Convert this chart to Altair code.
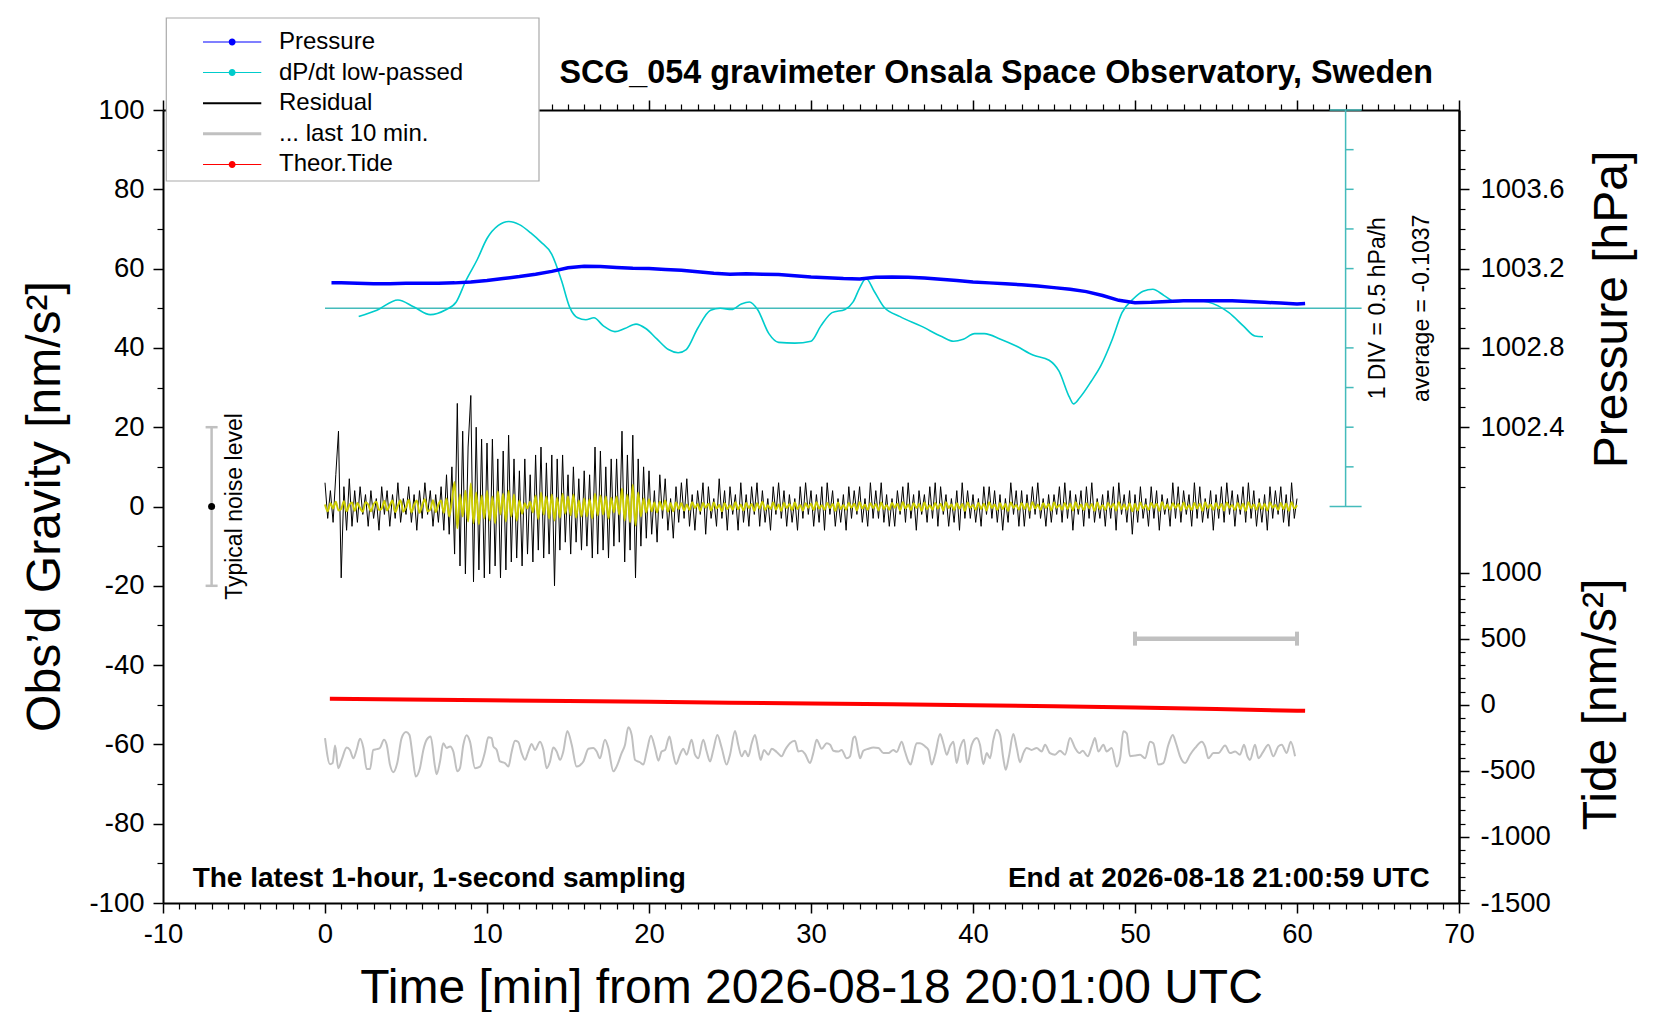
import altair as alt
import pandas as pd

FONT = "Liberation Sans"

# ---------------- data ----------------
# Residual gravity [nm/s^2], one value every 10 s from t = 0 min
residual = [
    6, -3, 4, -4, 8, 19,
    -18, 5, -6, 7, -5, 4,
    -4, 5, -2, 3, -5, 4,
    -3, 2, -6, 5, -2, 4,
    -5, 3, -3, 6, -4, 2,
    -2, 5, -4, 3, -6, 4,
    -3, 6, -2, 4, -5, 3,
    -4, 5, -6, 8, -7, 10,
    -12, 26, -15, 19, -17, 15,
    28, -19, 20, -16, 17, -18,
    16, -17, 17, -15, 12, -18,
    14, -16, 18, -14, 12, -13,
    9, -15, 12, -12, 8, -14,
    13, -11, 15, -13, 11, -12,
    13, -20, 12, -11, 13, -9,
    8, -12, 10, -9, 7, -11,
    9, -10, 8, -13, 15, -12,
    14, -11, 10, -13, 12, -10,
    12, -9, 19, -14, 13, -11,
    18, -18, 12, -10, 10, -8,
    9, -7, 4, -9, 8, -3,
    7, -6, 2, -8, 5, -4,
    6, -3, 7, -5, 3, -6,
    4, -2, 6, -7, 5, -3,
    2, -5, 7, -3, 4, -6,
    5, -2, 3, -6, 6, -4,
    3, -5, 5, -2, 6, -5,
    4, -4, 2, -6, 5, -2,
    6, -3, 4, -5, 3, -4,
    2, -6, 5, -3, 6, -2,
    4, -5, 3, -4, 5, -6,
    6, -2, 4, -5, 2, -4,
    3, -6, 5, -3, 4, -2,
    5, -4, 2, -5, 6, -3,
    4, -3, 6, -4, 3, -5,
    2, -5, 4, -2, 5, -4,
    6, -3, 3, -6, 4, -2,
    3, -4, 5, -3, 6, -5,
    5, -2, 3, -5, 2, -4,
    4, -6, 6, -3, 4, -3,
    3, -4, 2, -5, 5, -2,
    5, -3, 4, -4, 3, -6,
    2, -4, 6, -2, 4, -5,
    4, -5, 3, -3, 5, -2,
    6, -3, 2, -5, 3, -4,
    3, -2, 5, -4, 6, -3,
    4, -6, 3, -2, 4, -5,
    5, -3, 6, -4, 2, -3,
    3, -5, 4, -3, 5, -6,
    6, -2, 3, -4, 4, -7,
    3, -4, 5, -3, 2, -5,
    5, -3, 4, -6, 3, -2,
    2, -5, 6, -3, 5, -4,
    4, -2, 3, -5, 6, -3,
    5, -4, 2, -3, 4, -6,
    3, -3, 5, -4, 6, -2,
    4, -5, 3, -2, 5, -4,
    6, -3, 4, -5, 2, -4,
    3, -6, 5, -3, 4, -2,
    5, -4, 3, -5, 6, -3,
    2,
]

# Low-passed residual (yellow) [nm/s^2], same 10-s samples
filtered = [
    0.5, -1.2, 0.8, -0.5, 1.2, -1.0,
    -0.6, 1.3, -1.2, 0.4, 1.0, -1.1,
    0.9, -0.4, -1.3, 1.1, 0.5, -1.2,
    0.6, 1.2, -0.9, -0.5, 1.4, -1.0,
    0.3, 1.5, -1.4, 0.2, 1.6, -1.3,
    -0.2, 1.7, -1.5, 0.4, 1.5, -1.6,
    0.3, 1.8, -1.2, -0.8, 1.6, -1.4,
    0.5, 1.5, -1.6, 2.0, -2.5, 1.5,
    6.2, -5.5, 3.0, -2.5, 4.0, -3.8,
    5.8, -4.2, 3.5, -4.5, 2.8, -3.0,
    4.0, -3.5, 2.5, -4.2, 3.8, -2.0,
    3.2, -3.8, 4.0, -2.5, 3.0, -3.6,
    1.5, -1.8, 0.8, -0.5, 1.2, -1.5,
    2.8, -3.2, 3.5, -2.0, 2.5, -3.0,
    3.0, -3.5, 2.2, -2.8, 3.2, -1.8,
    2.5, -2.2, 3.0, -2.8, 1.5, -2.5,
    2.0, -2.5, 1.8, -3.0, 3.2, -2.2,
    2.8, -2.0, 2.5, -3.0, 2.2, -1.5,
    2.5, -2.0, 4.5, -3.5, 3.0, -4.0,
    5.5, -4.8, 3.5, -2.5, 2.0, -1.5,
    1.8, -1.2, 1.0, -1.5, 1.2, -0.8,
    1.5, -1.3, 0.8, -1.2, 1.0, -0.6,
    0.8, -1.0, 0.5, -0.9, 1.1, -0.4,
    0.6, -1.1, 0.9, -0.3, 0.7, -1.0,
    1.0, -0.5, 0.4, -1.2, 0.9, -0.6,
    0.3, -0.8, 1.1, -0.7, 0.5, -1.0,
    0.9, -0.4, 0.6, -1.1, 0.8, -0.5,
    1.2, -0.9, 0.3, -0.6, 1.0, -0.8,
    0.5, -1.1, 0.9, -0.4, 0.6, -0.9,
    1.0, -0.6, 0.4, -1.0, 0.8, -0.3,
    0.7, -0.9, 1.1, -0.5, 0.3, -0.8,
    0.9, -0.4, 0.6, -1.1, 1.0, -0.6,
    0.4, -0.8, 0.9, -0.3, 0.7, -1.0,
    1.1, -0.5, 0.5, -0.9, 0.8, -0.4,
    0.6, -1.0, 1.0, -0.6, 0.4, -0.8,
    0.9, -0.3, 0.7, -1.0, 1.1, -0.5,
    0.5, -0.9, 0.8, -0.4, 0.6, -1.1,
    1.0, -0.6, 0.3, -0.8, 0.9, -0.5,
    0.7, -1.0, 1.1, -0.4, 0.5, -0.9,
    0.8, -0.5, 0.6, -1.1, 1.0, -0.3,
    0.4, -0.8, 0.9, -0.6, 0.7, -1.0,
    1.1, -0.4, 0.5, -0.9, 0.8, -0.6,
    0.6, -1.1, 1.0, -0.3, 0.4, -0.8,
    0.9, -0.6, 0.7, -1.0, 1.1, -0.5,
    0.5, -0.9, 0.8, -0.4, 0.6, -1.0,
    1.0, -0.3, 0.4, -0.8, 0.9, -0.6,
    0.7, -1.0, 1.1, -0.5, 0.5, -0.9,
    0.8, -0.4, 0.6, -1.1, 1.0, -0.6,
    0.4, -0.9, 0.9, -0.3, 0.7, -1.0,
    1.1, -0.6, 0.5, -0.8, 0.8, -1.2,
    0.6, -1.0, 1.0, -0.5, 0.4, -0.9,
    0.9, -0.3, 0.7, -1.1, 1.1, -0.6,
    0.5, -0.8, 0.8, -0.4, 0.6, -1.0,
    1.0, -0.6, 0.3, -0.9, 0.9, -0.5,
    0.7, -1.1, 1.1, -0.4, 0.5, -0.8,
    0.8, -0.5, 0.6, -1.0, 1.0, -0.3,
    0.4, -0.9, 0.9, -0.6, 0.7, -1.1,
    1.1, -0.4, 0.5, -0.8, 0.8, -0.6,
    0.6, -1.0, 1.0, -0.3, 0.4, -0.9,
    0.9, -0.6, 0.7, -1.1, 1.1, -0.5,
    0.3,
]
SAMPLE_MIN = 10 / 60
res_t = [round(i * SAMPLE_MIN, 4) for i in range(len(residual))]

# Air pressure [hPa]
press_t = [0.4] + list(range(1, 61)) + [60.5]
press_hpa = [
    1003.128,
    1003.128, 1003.126, 1003.124, 1003.124, 1003.126, 1003.126, 1003.126, 1003.128, 1003.132, 1003.140,
    1003.150, 1003.160, 1003.172, 1003.186, 1003.204, 1003.212, 1003.210, 1003.206, 1003.202, 1003.200,
    1003.196, 1003.192, 1003.184, 1003.176, 1003.172, 1003.174, 1003.172, 1003.170, 1003.164, 1003.158,
    1003.154, 1003.150, 1003.148, 1003.156, 1003.158, 1003.156, 1003.152, 1003.146, 1003.140, 1003.132,
    1003.128, 1003.124, 1003.118, 1003.112, 1003.104, 1003.096, 1003.084, 1003.064, 1003.040, 1003.028,
    1003.030, 1003.034, 1003.038, 1003.038, 1003.038, 1003.038, 1003.034, 1003.030, 1003.026, 1003.022,
    1003.024,
]

# dP/dt low-passed [hPa/h]
DPDT_AVG = -0.1037
DPDT_DIV = 0.5  # hPa/h per division (10 axis units)
dpdt_t = [2.08, 3.2, 4.5, 5.5, 6.5, 7.4, 8.1, 8.7, 9.4, 10.0, 10.7, 11.35, 12.0, 12.7, 13.3, 14.0,
          14.6, 15.1, 15.6, 16.1, 16.6, 17.2, 17.9, 18.5, 19.2, 19.8, 20.5, 21.2, 21.8, 22.3, 23.0,
          23.8, 24.4, 25.1, 25.7, 26.2, 26.7, 27.4, 28.0, 29.0, 30.0, 30.6, 31.3, 32.1, 32.6, 33.0,
          33.4, 33.9, 34.5, 35.5, 36.8, 38.1, 38.8, 39.4, 40.1, 40.7, 41.7, 42.7, 43.7, 44.7, 45.3,
          45.96, 46.2, 46.6, 47.3, 47.9, 48.6, 49.2, 49.9, 50.5, 51.1, 51.8, 52.5, 53.5, 54.5, 55.8,
          56.7, 57.4, 57.9]
dpdt_val = [-0.209, -0.129, 0.001, -0.089, -0.184, -0.129, -0.024, 0.246, 0.511, 0.776, 0.941, 0.991,
            0.951, 0.846, 0.736, 0.576, 0.246, -0.089, -0.224, -0.249, -0.224, -0.329, -0.399, -0.359,
            -0.304, -0.359, -0.494, -0.624, -0.664, -0.624, -0.359, -0.129, -0.104, -0.119, -0.049,
            -0.024, -0.119, -0.424, -0.534, -0.544, -0.519, -0.329, -0.159, -0.119, -0.024, 0.151,
            0.271, 0.111, -0.089, -0.209, -0.329, -0.464, -0.519, -0.494, -0.424, -0.424, -0.494,
            -0.584, -0.694, -0.759, -0.894, -1.229, -1.309, -1.229, -1.024, -0.824, -0.494, -0.159,
            0.016, 0.111, 0.136, 0.056, -0.024, 0.001, -0.024, -0.159, -0.329, -0.454, -0.464]

# Theoretical tide [nm/s^2]
tide_t = [0.3, 5, 10, 15, 20, 25, 30, 35, 40, 45, 50, 55, 60, 60.5]
tide_val = [45, 40, 34, 28, 22, 16, 9, 3, -4, -12, -21, -33, -45, -46]

# Last 10 minutes of residual, stretched over the 60-min axis [nm/s^2]
last10_t = [0.00, 0.31, 0.47, 0.62, 0.82, 1.03, 1.34, 1.54, 1.75, 1.95, 2.16, 2.37, 2.57, 2.78, 2.98,
            3.19, 3.39, 3.64, 3.81, 4.01, 4.22, 4.46, 4.73, 5.00, 5.21, 5.41, 5.60, 5.86, 6.07, 6.28,
            6.52, 6.79, 6.89, 7.10, 7.30, 7.51, 7.72, 7.92, 8.17, 8.33, 8.54, 8.74, 8.95, 9.26, 9.57,
            9.88, 10.08, 10.29, 10.39, 10.60, 10.80, 11.11, 11.32, 11.52, 11.73, 11.93, 12.14, 12.35,
            12.55, 12.76, 12.96, 13.27, 13.48, 13.68, 13.89, 14.09, 14.30, 14.51, 14.71, 14.96, 15.23,
            15.53, 15.95, 16.26, 16.56, 16.77, 16.97, 17.28, 17.49, 17.80, 18.00, 18.31, 18.52, 18.72,
            18.93, 19.14, 19.44, 19.65, 19.86, 20.12, 20.37, 20.58, 20.78, 20.99, 21.26, 21.46, 21.67,
            21.91, 22.12, 22.32, 22.63, 22.84, 23.04, 23.35, 23.56, 23.77, 23.97, 24.22, 24.49, 24.79,
            25.00, 25.31, 25.51, 25.72, 25.93, 26.13, 26.34, 26.54, 26.75, 26.89, 27.10, 27.37, 27.57,
            27.88, 28.19, 28.40, 28.70, 29.01, 29.22, 29.42, 29.63, 29.94, 30.14, 30.35,
            30.66, 30.97, 31.18, 31.38, 31.69, 31.89, 32.20, 32.41, 32.61, 32.72, 32.92, 33.03, 33.23,
            33.54, 33.85, 34.16, 34.47, 34.78, 35.08, 35.29, 35.60, 35.80, 36.01, 36.15, 36.32, 36.52,
            36.73, 37.04, 37.25, 37.45, 37.66, 37.97, 38.17, 38.38, 38.58, 38.79, 38.99, 39.20, 39.45,
            39.65, 39.92, 40.23, 40.43, 40.64, 40.85, 41.05, 41.26, 41.46, 41.67, 41.87, 42.02, 42.22,
            42.49, 42.70, 42.90, 43.11, 43.31, 43.62, 43.93, 44.24, 44.45, 44.75, 45.06, 45.37, 45.68,
            45.99, 46.30, 46.57, 46.77, 47.08, 47.33, 47.53, 47.74, 48.05, 48.25, 48.56, 48.87, 49.08,
            49.28, 49.49, 49.69, 50.00, 50.31, 50.62, 50.93, 51.13, 51.44, 51.75, 52.06, 52.33, 52.53,
            52.78, 53.09, 53.40, 53.71, 54.12, 54.32, 54.53, 54.84, 55.15, 55.56, 55.87, 56.18, 56.48,
            56.73, 56.94, 57.10, 57.41, 57.62, 57.92, 58.23, 58.54, 58.85, 59.06, 59.36, 59.61, 59.88]
last10_v = [4.3, -2.3, -2.0, 2.4, -3.3, -1.2, 1.9, 1.3, -0.8, 1.3, 4.1, 1.8, -3.5, -3.5, 1.3,
            1.5, 1.8, 3.9, 2.6, -2.4, -4.3, -2.0, 4.3, 5.8, 5.1, -0.3, -5.4, -3.3, 1.3, 3.9,
            4.7, -2.9, -4.8, -1.6, 3.0, 1.8, 2.2, 0.9, -4.1, -3.3, 2.6, 5.0, 3.4, -3.3, -2.9,
            0.9, 4.5, 4.3, 2.2, 1.3, -1.6, -2.0, -2.9, 0.8, 3.6, 3.3, 0.5, -1.2,
            0.9, 2.8, 1.3, 3.4, 1.3, -3.3, -1.6, 1.9, 0.9, -1.2, 0.9, 6.1, 2.6,
            -2.9, -1.6, 1.6, 1.8, 0.9, -0.8, 3.9, 1.8, -4.1, -2.9, 0.5, 2.6, 7.0,
            5.1, -1.2, -1.8, -2.4, 0.9, 4.9, 1.8, -1.4, 0.9, 1.3, 4.7, 0.9, -2.3,
            0.1, 1.6, 0.1, 3.9, 0.1, -0.8, 3.9, 0.9, -1.6, 1.3, 5.1, 1.8, -2.4,
            0.1, 6.1, 2.6, -0.3, 1.1, -0.3, 3.0, 5.1, 1.3, -1.2, 1.3, 0.1, 1.6,
            0.8, -0.3, 1.3, 3.0, 3.6, 0.9, 1.1, 0.3, -2.0, 0.5, 3.9,
            1.6, 3.0, 2.6, 1.1, 0.9, 1.3, -0.8, -0.3, 4.3, 4.7, 0.9, -0.8, 1.1,
            1.6, 1.9, 1.8, 0.5, 0.5, 1.3, 0.8, 3.4, 0.9, -1.6, -2.4, 0.1, 3.0,
            3.0, 2.2, 1.3, -2.4, 0.1, 5.3, 3.0, 0.1, 2.2, 3.4, -2.0, 1.8, 3.9,
            -2.3, 2.6, 4.3, 2.6, -2.3, 0.5, -0.8, 3.9, 6.4, 5.1, -0.8, -3.7, -0.3,
            5.3, 1.8, -1.8, 0.5, 1.8, 1.3, 1.8, 0.9, 2.6, 0.5, 0.1, 1.1, 0.1,
            4.3, 1.8, 0.5, 1.1, -0.3, 2.2, 4.3, 0.9, 2.6, 0.9, 1.8, -2.9, -0.8,
            6.0, 5.5, -0.3, -0.1, 0.1, -0.8, 3.4, 3.0, -2.4, -2.0, 2.6, 5.1, 3.0,
            -0.3, -2.0, 0.1, 1.8, 3.4, 2.2, -0.8, 0.5, 0.5, 2.4, 0.5, 0.9, 0.1,
            2.6, -0.3, -1.2, 2.6, -0.8, 0.9, 2.6, -0.3, 2.2, 2.6, 0.5, 3.4, -0.3]
LAST10_OFFSET = -62.7   # plotting baseline on the left axis

# Typical noise level [nm/s^2] and the "last 10 min" bracket [min]
noise_level = 20
bracket_start, bracket_end, bracket_level = 50, 60, -33.33
dpdt_axis_x = 63
dpdt_div_levels = [10, 20, 30, 40, 60, 70, 80, 90]

legend_labels = ["Pressure", "dP/dt low-passed", "Residual", "... last 10 min.", "Theor.Tide"]
legend_colors = ["#0000ff", "#00cccc", "#000000", "#c0c0c0", "#ff0000"]

# ---------------- styles ----------------
DOT = "M1,-0.035H5.02V0.035H1Z M3.25,0A0.24,0.24 0 1 1 2.77,0A0.24,0.24 0 1 1 3.25,0Z"
def bar(h):
    return f"M1,-{h}H5.02V{h}H1Z"
legend_shapes = [DOT, DOT, bar(0.07), bar(0.1), DOT]

xs = alt.Scale(domain=[-10, 70], nice=False, zero=False)
ys = alt.Scale(domain=[-100, 100], nice=False, zero=False)

HYPHEN_INT = "(datum.value < 0 ? '-' : '') + format(abs(datum.value), 'd')"


def ax(orient, values, major=True, labels=False, **kw):
    d = dict(orient=orient, values=values, grid=False, labels=labels, ticks=True,
             tickSize=10 if major else 6, tickWidth=1.5 if major else 1.2, tickColor="black",
             domain=major, domainColor="black", domainWidth=2, title=None,
             labelFont=FONT, labelFontSize=27.5, labelColor="black",
             labelFlush=False, labelOverlap=False)
    d.update(kw)
    return alt.Axis(**d)


TITLE_KW = dict(titleFont=FONT, titleFontSize=48, titleFontWeight="normal", titleColor="black",
                titleAlign="center")

AX_BOTTOM = ax("bottom", list(range(-10, 71, 10)), labels=True, labelPadding=7,
               labelExpr=HYPHEN_INT,
               title="Time [min] from 2026-08-18 20:01:00 UTC", titleX=648, titleY=99,
               titleBaseline="alphabetic", titleAngle=0, **TITLE_KW)
AX_BOTTOM_MINOR = ax("bottom", [v for v in range(-10, 71) if v % 10], major=False)
AX_TOP = ax("top", list(range(-10, 71, 10)))
AX_TOP_MINOR = ax("top", [v for v in range(-10, 71) if v % 10], major=False)
AX_LEFT = ax("left", list(range(-100, 101, 20)), labels=True, labelPadding=9,
             labelExpr=HYPHEN_INT,
             title="Obs\u2019d Gravity [nm/s\u00b2]", titleX=-118, titleY=396,
             titleAngle=270, titleBaseline="middle", **TITLE_KW)
AX_LEFT_MINOR = ax("left", list(range(-90, 100, 20)), major=False)
AX_P = ax("right", [20, 40, 60, 80], labels=True, labelPadding=11,
          labelExpr="format(1003.2 + (datum.value - 60) * 0.02, '.1f')",
          title="Pressure [hPa]", titleX=153, titleY=199, titleAngle=270,
          titleBaseline="middle", **TITLE_KW)
AX_P_MINOR = ax("right", [v for v in range(0, 101, 5) if v % 20], major=False)
TIDE_OF = "round((datum.value + 50) * 30)"
AX_T = ax("right", [-100, -83.3333, -66.6667, -50, -33.3333, -16.6667], labels=True,
          labelPadding=11,
          labelExpr=f"({TIDE_OF} < 0 ? '-' : '') + format(abs({TIDE_OF}), 'd')",
          title="Tide [nm/s\u00b2]", titleX=142, titleY=594, titleAngle=270,
          titleBaseline="middle", **TITLE_KW)
AX_T_MINOR = ax("right", [t / 30 - 50 for t in range(-1400, 1000, 100) if t % 500], major=False)


def xd(v):
    return alt.XDatum(v, type="quantitative", scale=xs, axis=None)


def yd(v):
    return alt.YDatum(v, type="quantitative", scale=ys, axis=None)


one = pd.DataFrame({"k": [0]})

df_res = pd.DataFrame({"t": res_t, "res": residual, "flt": filtered})
df_p = pd.DataFrame({"t": press_t, "hpa": press_hpa})
df_d = pd.DataFrame({"t": dpdt_t, "d": dpdt_val})
df_tide = pd.DataFrame({"t": tide_t, "tide": tide_val})
df_last = pd.DataFrame({"t": last10_t, "v": last10_v})

CYAN_AX = "#44bbbb"

layers = []

# cyan dP/dt scale
layers.append(alt.Chart(one).mark_rule(color=CYAN_AX, strokeWidth=1.5).encode(
    x=xd(dpdt_axis_x), y=yd(0), y2=alt.Y2Datum(100)))
layers.append(alt.Chart(one).mark_rule(color=CYAN_AX, strokeWidth=1.5, x2Offset=16).encode(
    x=xd(0), x2=alt.X2Datum(dpdt_axis_x), y=yd(50)))
layers.append(alt.Chart(pd.DataFrame({"g": dpdt_div_levels})).mark_rule(
    color=CYAN_AX, strokeWidth=1.5, x2Offset=8).encode(
    x=xd(dpdt_axis_x), x2=alt.X2Datum(dpdt_axis_x),
    y=alt.Y("g:Q", scale=ys, axis=None)))
layers.append(alt.Chart(pd.DataFrame({"g": [0, 100]})).mark_rule(
    color=CYAN_AX, strokeWidth=1.5, xOffset=-16, x2Offset=16).encode(
    x=xd(dpdt_axis_x), x2=alt.X2Datum(dpdt_axis_x),
    y=alt.Y("g:Q", scale=ys, axis=None)))

# dP/dt curve
layers.append(alt.Chart(df_d).transform_calculate(
    g=f"50 + (datum.d - ({DPDT_AVG})) / {DPDT_DIV} * 10").mark_line(
    color="#00cccc", strokeWidth=1.6, interpolate="monotone").encode(
    x=alt.X("t:Q", scale=xs, axis=AX_TOP_MINOR),
    y=alt.Y("g:Q", scale=ys, axis=AX_P_MINOR)))

# pressure
layers.append(alt.Chart(df_p).transform_calculate(
    g="60 + (datum.hpa - 1003.2) / 0.02").mark_line(
    color="#0000ff", strokeWidth=3.5).encode(
    x=alt.X("t:Q", scale=xs, axis=AX_TOP),
    y=alt.Y("g:Q", scale=ys, axis=AX_P)))

# residual and filtered residual
layers.append(alt.Chart(df_res).mark_line(color="black", strokeWidth=1, strokeJoin="round").encode(
    x=alt.X("t:Q", scale=xs, axis=AX_BOTTOM),
    y=alt.Y("res:Q", scale=ys, axis=AX_LEFT)))
layers.append(alt.Chart(df_res).mark_line(color="#cccc00", strokeWidth=2,
                                          interpolate="monotone").encode(
    x=alt.X("t:Q", scale=xs, axis=AX_BOTTOM_MINOR),
    y=alt.Y("flt:Q", scale=ys, axis=AX_LEFT_MINOR)))

# theoretical tide
layers.append(alt.Chart(df_tide).transform_calculate(g="datum.tide / 30 - 50").mark_line(
    color="#ff0000", strokeWidth=4).encode(
    x=alt.X("t:Q", scale=xs, axis=None),
    y=alt.Y("g:Q", scale=ys, axis=AX_T)))

# last 10 min
layers.append(alt.Chart(df_last).transform_calculate(g=f"datum.v + ({LAST10_OFFSET})").mark_line(
    color="#c0c0c0", strokeWidth=2, interpolate="monotone").encode(
    x=alt.X("t:Q", scale=xs, axis=None),
    y=alt.Y("g:Q", scale=ys, axis=AX_T_MINOR)))

# bracket for the last 10 min
layers.append(alt.Chart(one).mark_rule(color="#c0c0c0", strokeWidth=4.5).encode(
    x=xd(bracket_start), x2=alt.X2Datum(bracket_end), y=yd(bracket_level)))
layers.append(alt.Chart(pd.DataFrame({"t": [bracket_start, bracket_end]})).mark_rule(
    color="#c0c0c0", strokeWidth=4, yOffset=-7, y2Offset=7).encode(
    x=alt.X("t:Q", scale=xs, axis=None), y=yd(bracket_level), y2=alt.Y2Datum(bracket_level)))

# typical noise level
layers.append(alt.Chart(one).mark_rule(color="#c0c0c0", strokeWidth=2.5).encode(
    x=xd(-7), y=yd(-noise_level), y2=alt.Y2Datum(noise_level)))
layers.append(alt.Chart(pd.DataFrame({"g": [-noise_level, noise_level]})).mark_rule(
    color="#c0c0c0", strokeWidth=2.5, xOffset=-6, x2Offset=6).encode(
    x=xd(-7), x2=alt.X2Datum(-7), y=alt.Y("g:Q", scale=ys, axis=None)))
layers.append(alt.Chart(one).mark_point(filled=True, color="black", size=49, opacity=1).encode(
    x=xd(-7), y=yd(0)))


def text_layer(txt, x, y, size, angle=0, align="center", baseline="middle", bold=False, dx=0, dy=0):
    return alt.Chart(pd.DataFrame({"label": [txt]})).mark_text(
        font=FONT, fontSize=size, angle=angle, align=align, baseline=baseline,
        fontWeight="bold" if bold else "normal", color="black", dx=dx, dy=dy).encode(
        x=xd(x), y=yd(y), text="label:N")


layers.append(text_layer("Typical noise level", -5.55, 0, 23, angle=270))
layers.append(text_layer("1 DIV = 0.5 hPa/h", 65.0, 50, 23, angle=270))
layers.append(text_layer("average = -0.1037", 67.7, 50, 23, angle=270))
layers.append(text_layer("The latest 1-hour, 1-second sampling", -8.17, -96, 28,
                         align="left", baseline="alphabetic", bold=True))
layers.append(text_layer("End at 2026-08-18 21:00:59 UTC", 68.19, -96, 28,
                         align="right", baseline="alphabetic", bold=True))
layers.append(text_layer("SCG_054 gravimeter Onsala Space Observatory, Sweden", 70, 100, 32.3,
                         align="right", baseline="alphabetic", bold=True, dx=-26, dy=-27))

# legend frame (white box above the plot frame)
layers.append(alt.Chart(one).mark_rect(fill="white", stroke="#aaaaaa", strokeWidth=1.2).encode(
    x=alt.value(3.3), x2=alt.value(376), y=alt.value(-92), y2=alt.value(71)))

# legend carrier (no visible points)
leg = alt.Legend(
    orient="none", legendX=3, legendY=-90.5, title=None, padding=8, rowPadding=3.6,
    labelOffset=76, labelFont=FONT, labelFontSize=24, labelColor="black", labelLimit=500,
    symbolStrokeWidth=0, symbolSize=841, symbolOpacity=1,
)
legend_df = pd.DataFrame({"series": legend_labels, "nx": [None] * 5, "ny": [None] * 5})
layers.append(alt.Chart(legend_df).mark_point(filled=True, size=841, opacity=1).encode(
    x=alt.X("nx:Q", scale=xs, axis=None),
    y=alt.Y("ny:Q", scale=ys, axis=None),
    color=alt.Color("series:N", scale=alt.Scale(domain=legend_labels, range=legend_colors), legend=leg),
    shape=alt.Shape("series:N", scale=alt.Scale(domain=legend_labels, range=legend_shapes), legend=leg),
))

chart = alt.layer(*layers).resolve_axis(x="independent", y="independent").properties(
    width=1296, height=793,
    autosize=alt.AutoSizeParams(type="none"),
    padding={"left": 155, "top": 102, "right": 193, "bottom": 109},
    background="white",
).configure_view(stroke=None)

chart.save("out.html", embed_options={"renderer": "svg", "actions": False})
